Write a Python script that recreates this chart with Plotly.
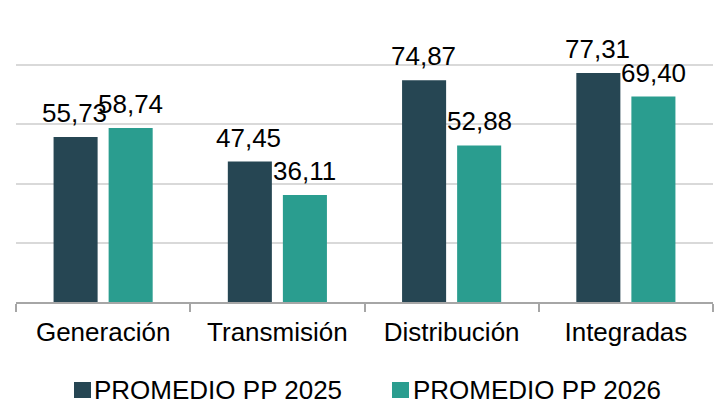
import plotly.graph_objects as go

# Sector categories and the two averages per sector
categories = ["Generación", "Transmisión", "Distribución", "Integradas"]
promedio_2025 = [55.73, 47.45, 74.87, 77.31]
promedio_2026 = [58.74, 36.11, 52.88, 69.40]
series_names = ["PROMEDIO PP 2025", "PROMEDIO PP 2026"]
y_ticks = [0, 20, 40, 60, 80, 100]

colors = ["#264653", "#2A9D8F"]
font_family = "Arial, Liberation Sans, sans-serif"
font_size = 26

W, H = 719, 404
margin = dict(l=16, r=6, t=5, b=102)
plot_w = W - margin["l"] - margin["r"]
plot_h = H - margin["t"] - margin["b"]

def px_to_paper(px, py):
    return (px - margin["l"]) / plot_w, (H - margin["b"] - py) / plot_h

fig = go.Figure()
for name, values, color in zip(series_names, [promedio_2025, promedio_2026], colors):
    fig.add_trace(go.Bar(
        x=categories, y=values, name=name,
        marker=dict(color=color, line=dict(width=0)),
        showlegend=False,
    ))

bargap = 0.368
groupgap = 0.2
offset = (1 - bargap) / 4  # half of one bar slot, in category units

def fmt(v):
    return f"{v:.2f}".replace(".", ",")

annotations = []
for i in range(len(categories)):
    for k, values in enumerate([promedio_2025, promedio_2026]):
        annotations.append(dict(
            x=i + (-offset if k == 0 else offset), y=values[i],
            xref="x", yref="y", text=fmt(values[i]),
            showarrow=False, yanchor="bottom", yshift=8, borderpad=0,
            xshift=-1 if k == 0 else 0,
            font=dict(size=font_size, color="#000000", family=font_family),
        ))

# Legend drawn below the axis: square swatch followed by the series name
shapes = []
legend_items = [(74, 93), (392, 412)]  # swatch left, text left (pixels)
legend_y = 390
for (sx, tx), name, color in zip(legend_items, series_names, colors):
    x0, y0 = px_to_paper(sx, legend_y + 8)
    x1, y1 = px_to_paper(sx + 17, legend_y - 8)
    shapes.append(dict(type="rect", xref="paper", yref="paper",
                       x0=x0, x1=x1, y0=y0, y1=y1,
                       fillcolor=color, line=dict(width=0)))
    tx_p, ty_p = px_to_paper(tx, legend_y)
    annotations.append(dict(
        x=tx_p, y=ty_p, xref="paper", yref="paper", text=name,
        showarrow=False, xanchor="left", yanchor="middle", borderpad=0,
        font=dict(size=font_size, color="#000000", family=font_family),
    ))

fig.update_layout(
    width=W, height=H,
    margin=margin,
    paper_bgcolor="white", plot_bgcolor="white",
    barmode="group", bargap=bargap, bargroupgap=groupgap,
    font=dict(family=font_family, size=font_size, color="#000000"),
    annotations=annotations, shapes=shapes,
    showlegend=False,
    xaxis=dict(
        type="category", showline=True, linecolor="#a6a6a6", linewidth=1.5,
        ticks="outside", tickson="boundaries", ticklen=8, tickcolor="#a6a6a6",
        tickwidth=1.5, showgrid=False, tickfont=dict(size=font_size),
        ticklabelstandoff=6, range=[-0.5, 3.5],
    ),
    yaxis=dict(
        range=[0, 100.3], tickvals=y_ticks, showticklabels=False,
        showgrid=True, gridcolor="#d9d9d9", gridwidth=1.5,
        zeroline=False, showline=False,
    ),
)

fig.write_html("out.html")
